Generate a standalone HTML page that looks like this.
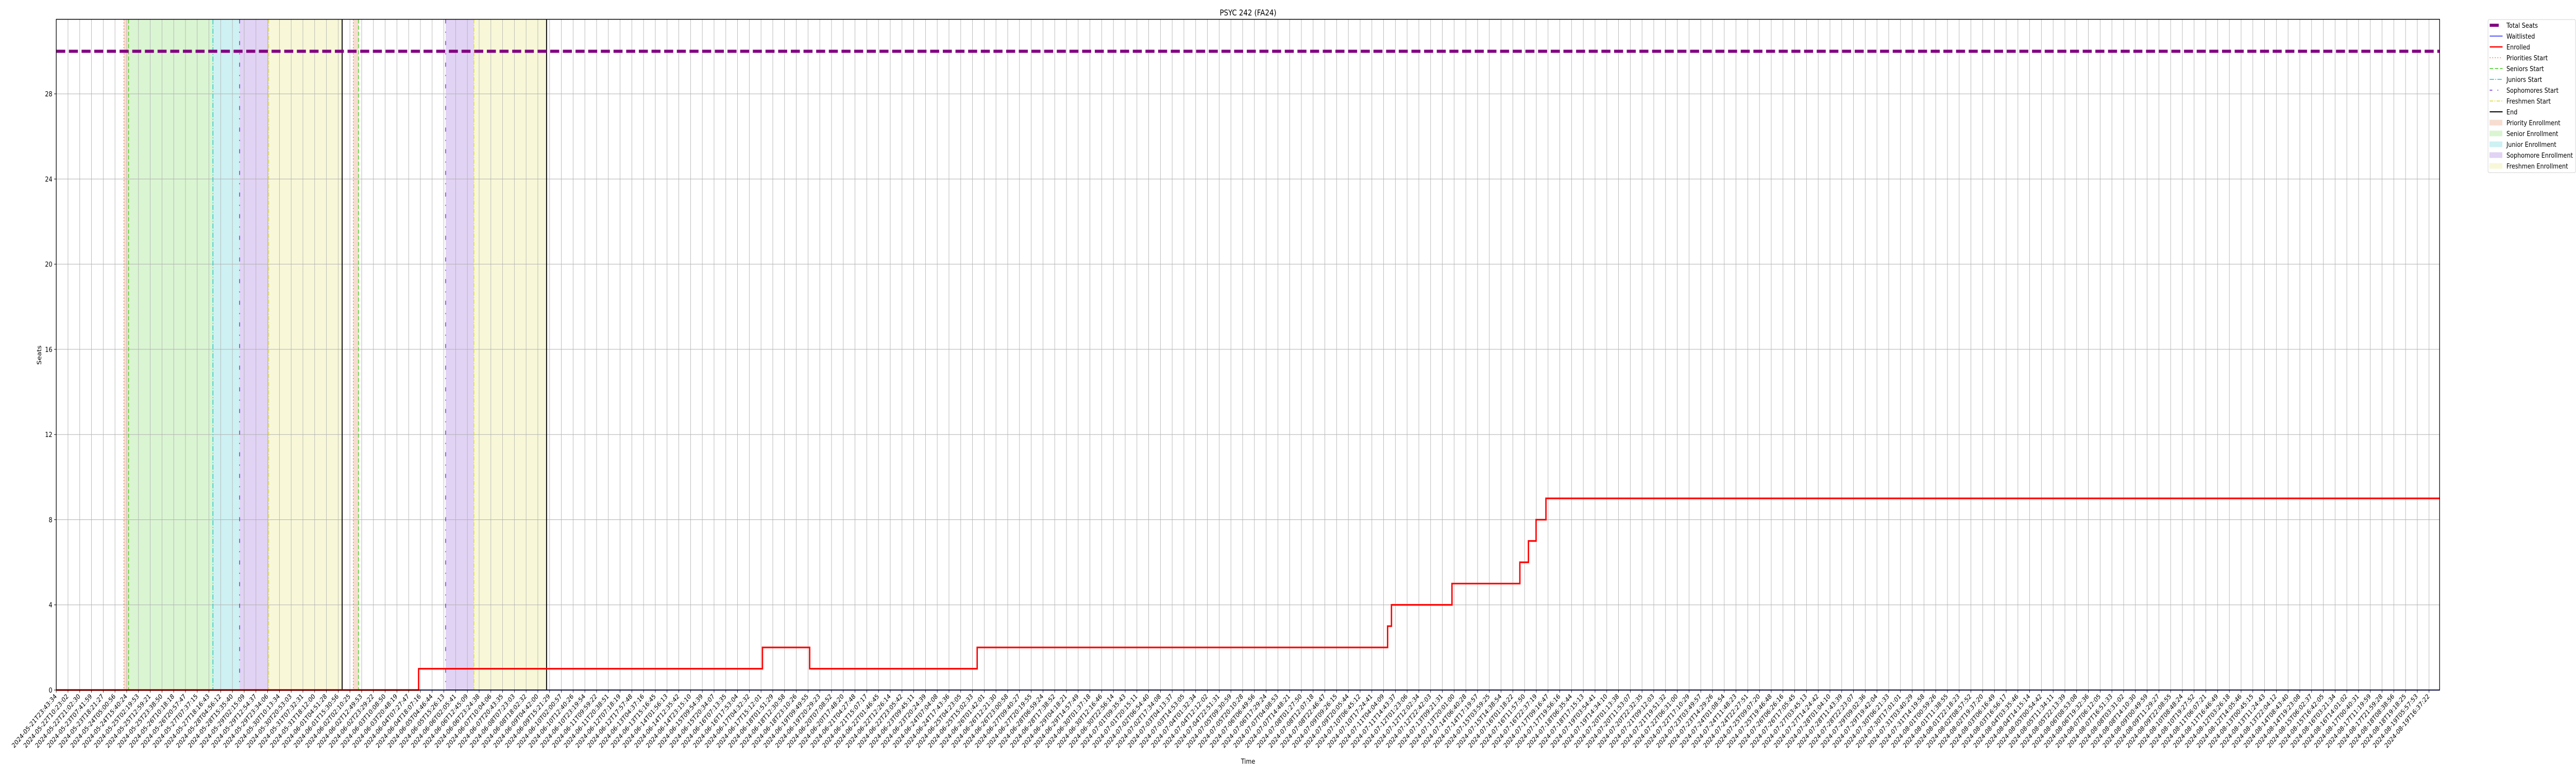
<!DOCTYPE html>
<html><head><meta charset="utf-8"><title>PSYC 242 (FA24)</title>
<style>
html,body{margin:0;padding:0;background:#fff;width:100%;height:100%;overflow:hidden;}
svg{display:block;width:100vw;height:100vh;font-family:"DejaVu Sans","Liberation Sans",sans-serif;}
</style></head>
<body>
<svg id="chart" viewBox="0 0 6000 1500" preserveAspectRatio="none" xmlns="http://www.w3.org/2000/svg">
<rect x="0" y="0" width="6000" height="1500" fill="#fff"/>
<g id="spans"></g>
<g id="grid"></g>
<g id="vlines"></g>
<g id="series"></g>
<g id="axes"></g>
<text x="2907" y="30" text-anchor="middle" font-size="16" fill="#000">PSYC 242 (FA24)</text>
<text x="2907" y="1482" text-anchor="middle" font-size="13.5" fill="#000">Time</text>
<text x="0" y="0" transform="translate(96,689) rotate(-90)" text-anchor="middle" font-size="13.5" fill="#000">Seats</text>
<g id="legend"></g>
</svg>
<script>
// ---- data ----
const totalSeats = 30;
const enrolledStepsT = [0, 30.85, 60.12, 64.14, 78.40, 113.34, 113.67, 118.82, 124.60, 125.33, 125.98, 126.82];
const enrolledValues = [0, 1, 2, 1, 2, 3, 4, 5, 6, 7, 8, 9];
const waitlistedT = [0];
const waitlistedValues = [0];
const yTicks = [0, 4, 8, 12, 16, 20, 24, 28];
const tickCount = 203;
const tickStartLabel = "2024-05-21T23:43:34";
const tickEndLabel = "2024-08-19T16:37:22";
const phaseNames = ["priorities", "seniors", "juniors", "sophomores", "freshmen", "end"];
const phaseT1 = [5.76, 6.16, 13.34, 15.61, 18.09, 24.34];
const phaseT2 = [25.29, 25.73, null, 33.15, 35.56, 41.74];

// ---- scales ----
const X0 = 131, XSTEP = 27.36, XMAX_T = 202.9;
const Y0 = 1339, YMAX = 31.5, YTOP = 37.5;
const PLOT_R = X0 + XMAX_T * XSTEP;
function xs(t){ return X0 + t * XSTEP; }
function ys(v){ return Y0 - v * (Y0 - YTOP) / YMAX; }

const NS = "http://www.w3.org/2000/svg";
function mk(tag, attrs, parent){
  const e = document.createElementNS(NS, tag);
  for (const k in attrs) e.setAttribute(k, attrs[k]);
  parent.appendChild(e); return e;
}
const spans = document.getElementById('spans');
const grid = document.getElementById('grid');
const vlines = document.getElementById('vlines');
const series = document.getElementById('series');
const axes = document.getElementById('axes');
const legend = document.getElementById('legend');

// spans (only between consecutive defined phases)
const spanColors = ["#f7ddd0", "#daf5d2", "#cef1f3", "#e1d3f4", "#f8f8d9"];
[phaseT1, phaseT2].forEach((P, ci) => {
  for (let i = 0; i < 5; i++) {
    const a = P[i], b = P[i + 1];
    if (a === null || b === null) continue;
    const r = mk('rect', {x: xs(a), y: YTOP, width: Math.max(0, xs(b) - xs(a)), height: Y0 - YTOP, fill: spanColors[i]}, spans);
    
    
  }
});

// grid
for (let i = 0; i < tickCount; i++) {
  const l = mk('line', {x1: xs(i), x2: xs(i), y1: YTOP, y2: Y0, stroke: "#b0b0b0", "stroke-width": 1}, grid);
  
  
}
yTicks.forEach(v => {
  const l = mk('line', {x1: X0, x2: PLOT_R, y1: ys(v), y2: ys(v), stroke: "#b0b0b0", "stroke-width": 1}, grid);
  
  
});

// phase lines
const lineStyles = [
  {stroke: "#f26b3a", dash: "2,4", w: 1.6},
  {stroke: "#3ccc18", dash: "8,4", w: 1.6},
  {stroke: "#12c4cf", dash: "10,3,2,3", w: 1.6},
  {stroke: "#6a22e0", dash: "8,16,2,16", w: 1.6},
  {stroke: "#dada2a", dash: "8,3,2,3", w: 1.6},
  {stroke: "#000000", dash: "", w: 2.2}
];
[phaseT1, phaseT2].forEach((P, ci) => {
  P.forEach((t, i) => {
    if (t === null) return;
    const s = lineStyles[i];
    const attrs = {x1: xs(t), x2: xs(t), y1: YTOP, y2: Y0, stroke: s.stroke, "stroke-width": s.w};
    if (s.dash) attrs["stroke-dasharray"] = s.dash;
    const l = mk('line', attrs, vlines);
    
    
  });
});

// series
function stepPath(T, V){
  let d = "M" + xs(T[0]) + "," + ys(V[0]);
  for (let i = 1; i < T.length; i++) {
    d += " L" + xs(T[i]) + "," + ys(V[i-1]) + " L" + xs(T[i]) + "," + ys(V[i]);
  }
  d += " L" + PLOT_R + "," + ys(V[V.length-1]);
  return d;
}
const wl = mk('path', {d: stepPath(waitlistedT, waitlistedValues), stroke: "#2020ff", "stroke-width": 2, fill: "none"}, series);


const en = mk('path', {d: stepPath(enrolledStepsT, enrolledValues), stroke: "#ff0000", "stroke-width": 3.2, fill: "none"}, series);


const ts = mk('line', {x1: X0, x2: PLOT_R, y1: ys(totalSeats), y2: ys(totalSeats), stroke: "#800080", "stroke-width": 6, "stroke-dasharray": "21,8.5"}, series);



// axes frame
const fr = mk('rect', {x: X0, y: YTOP, width: PLOT_R - X0, height: Y0 - YTOP, fill: "none", stroke: "#000", "stroke-width": 1.5}, axes);



// y ticks
yTicks.forEach(v => {
  const tk = mk('line', {x1: X0 - 5, x2: X0, y1: ys(v), y2: ys(v), stroke: "#000", "stroke-width": 1}, axes);
  
  
  const tx = mk('text', {x: X0 - 9, y: ys(v) + 5, "text-anchor": "end", "font-size": 13.5, fill: "#000"}, axes);
  tx.textContent = String(v);
  
  
});

// x tick labels
const tStart = Date.parse(tickStartLabel + "Z"), tEnd = Date.parse(tickEndLabel + "Z");
function fmt(ms){ return new Date(ms).toISOString().slice(0, 19); }
const xTickLabels = [];
for (let i = 0; i < tickCount; i++) xTickLabels.push(fmt(tStart + (tEnd - tStart) * i / (tickCount - 1)));
xTickLabels.forEach((lab, i) => {
  const x = xs(i);
  const tk = mk('line', {x1: x, x2: x, y1: Y0, y2: Y0 + 5, stroke: "#000", "stroke-width": 1}, axes);
  
  
  const tx = mk('text', {x: 0, y: 0, transform: "translate(" + (x + 2) + "," + (Y0 + 13) + ") rotate(-45)", "text-anchor": "end", "font-size": 13, fill: "#000"}, axes);
  tx.textContent = lab;
  
  
});

// legend
const lb = mk('rect', {x: 5795, y: 38, width: 204, height: 297, rx: 3, fill: "#fff", stroke: "#d0d0d0", "stroke-width": 1}, legend);


const legendLabels = ["Total Seats","Waitlisted","Enrolled","Priorities Start","Seniors Start","Juniors Start","Sophomores Start","Freshmen Start","End","Priority Enrollment","Senior Enrollment","Junior Enrollment","Sophomore Enrollment","Freshmen Enrollment"];
const handles = [
  {c:"#800080", w:6, d:""}, {c:"#2020ff", w:1.5, d:""}, {c:"#ff0000", w:2.5, d:""},
  {c:"#f26b3a", w:1.6, d:"2,4"}, {c:"#3ccc18", w:1.6, d:"8,4"}, {c:"#12c4cf", w:1.6, d:"10,3,2,3"},
  {c:"#6a22e0", w:1.6, d:"6,12,2,12"}, {c:"#dada2a", w:1.6, d:"8,3,2,3"}, {c:"#000", w:2, d:""}
];
legendLabels.forEach((lab, i) => {
  const cy = 49 + i * 21;
  const g = mk('g', {}, legend);
  
  
  if (i < 9) {
    const h = handles[i];
    const a = {x1: 5799, x2: i === 0 ? 5820 : 5829, y1: cy, y2: cy, stroke: h.c, "stroke-width": h.w};
    if (h.d) a["stroke-dasharray"] = h.d;
    mk('line', a, g);
  } else {
    mk('rect', {x: 5799, y: cy - 5, width: 29, height: 10, fill: spanColors[i - 9], stroke: spanColors[i - 9]}, g);
  }
  const t = mk('text', {x: 5838, y: cy + 5, "font-size": 13.5, fill: "#000"}, g);
  t.textContent = lab;
});
</script>
</body></html>
